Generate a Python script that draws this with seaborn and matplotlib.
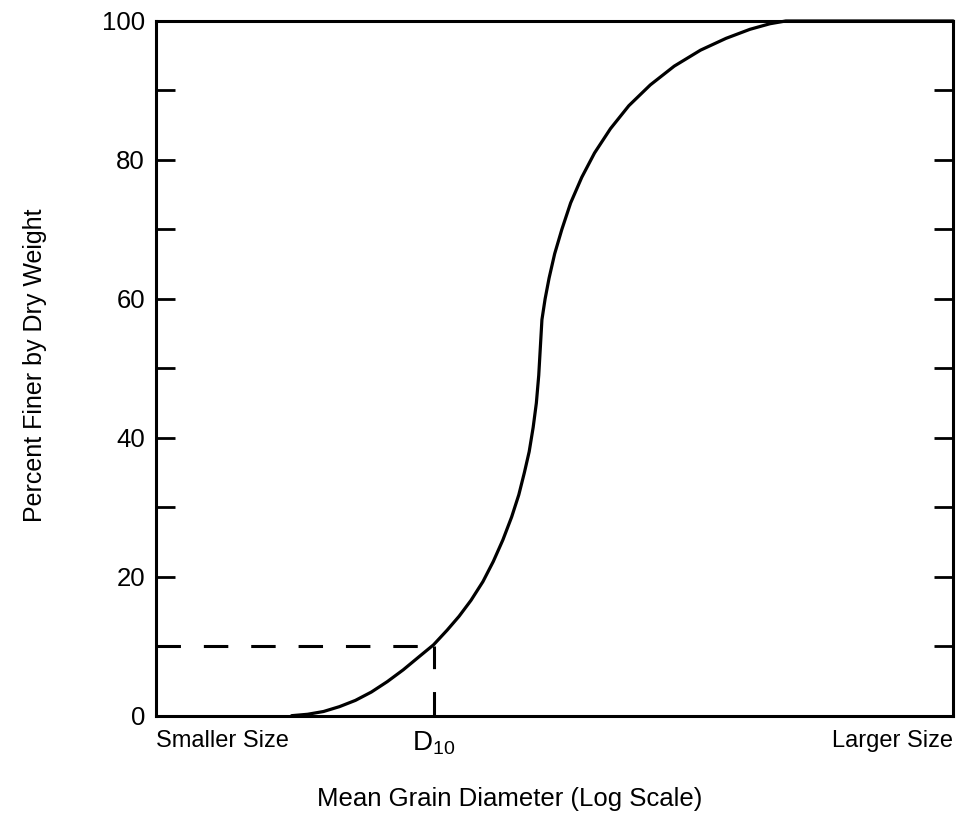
import matplotlib
matplotlib.use('Agg')
import matplotlib.pyplot as plt
import seaborn as sns
import pandas as pd

# position along the log-size axis (0 = smaller, 100 = larger) and percent finer
grain_pos = [17.0, 19.0, 21.0, 23.0, 25.0, 27.0, 29.0, 31.0, 33.0, 34.8, 36.5, 38.0,
             39.5, 41.0, 42.3, 43.5, 44.6, 45.5, 46.2, 46.8, 47.3, 47.7, 48.0, 48.2,
             48.4, 48.8, 49.3, 50.0, 50.9, 52.0, 53.4, 55.0, 57.0, 59.3, 62.0, 65.0,
             68.3, 71.5, 74.5, 77.0, 79.0, 100.0]
pct_finer = [0.0, 0.2, 0.6, 1.3, 2.2, 3.4, 4.9, 6.6, 8.5, 10.2, 12.3, 14.3,
             16.6, 19.3, 22.2, 25.3, 28.6, 31.8, 35.0, 38.0, 41.5, 45.0, 49.0, 53.0,
             57.0, 60.0, 63.0, 66.5, 70.0, 73.8, 77.5, 81.0, 84.5, 87.8, 90.8, 93.5,
             95.8, 97.5, 98.8, 99.6, 100.0, 100.0]

d10_pos = 34.8
d10_pct = 10
x_ticks = [0, d10_pos, 100]
x_labels = ['Smaller Size', 'D$_{10}$', 'Larger Size']
y_major = [0, 20, 40, 60, 80, 100]
y_minor = [10, 30, 50, 70, 90]

sns.set_theme(style='white')
plt.rcParams['font.family'] = ['Liberation Sans', 'DejaVu Sans']
plt.rcParams['mathtext.default'] = 'regular'
plt.rcParams['text.color'] = 'black'
plt.rcParams['axes.labelcolor'] = 'black'
plt.rcParams['xtick.color'] = 'black'
plt.rcParams['ytick.color'] = 'black'

df = pd.DataFrame({'pos': grain_pos, 'pct': pct_finer})

fig = plt.figure(figsize=(9.58, 8.39), dpi=100)
ax = fig.add_axes([0.163, 0.147, 0.832, 0.828])

sns.lineplot(data=df, x='pos', y='pct', color='black', linewidth=2.3, ax=ax, clip_on=False)

# D10 guide lines
ax.plot([0, d10_pos], [d10_pct, d10_pct], color='black', linewidth=2.2,
        dashes=(8, 7.5), clip_on=False)
ax.plot([d10_pos, d10_pos], [0, d10_pct], color='black', linewidth=2.2,
        dashes=(8, 7.5), clip_on=False)

ax.set_xlim(0, 100)
ax.set_ylim(0, 100)

for s in ax.spines.values():
    s.set_visible(True)
    s.set_color('black')
    s.set_linewidth(2.2)

ax.set_yticks(y_major)
ax.set_yticks(y_minor, minor=True)
ax.tick_params(axis='y', which='both', direction='in', left=True, right=True,
               length=14, width=2.0, color='black', pad=8, labelsize=18.5)

ax.set_xticks(x_ticks)
ax.set_xticklabels(x_labels)
ax.tick_params(axis='x', length=0, pad=10, labelsize=17)
tl = ax.get_xticklabels()
tl[0].set_ha('left')
tl[1].set_fontsize(20)
tl[2].set_ha('right')

ax.set_xlabel('Mean Grain Diameter (Log Scale)', fontsize=18.5)
ax.set_ylabel('Percent Finer by Dry Weight', fontsize=18)
ax.xaxis.set_label_coords(0.444, -0.102)
ax.yaxis.set_label_coords(-0.137, 0.505)

fig.savefig('out.png', dpi=100)
